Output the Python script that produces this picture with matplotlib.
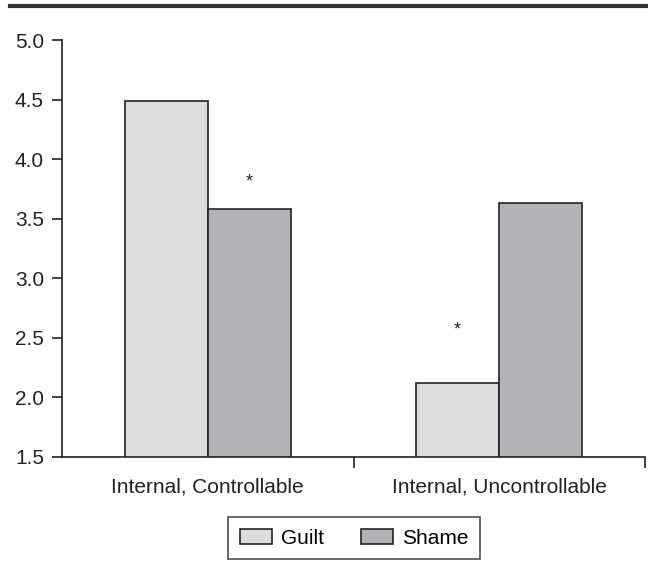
import matplotlib
matplotlib.use("Agg")
import matplotlib.pyplot as plt
import numpy as np
from matplotlib.lines import Line2D

categories = ["Internal, Controllable", "Internal, Uncontrollable"]
guilt = [4.49, 2.12]
shame = [3.58, 3.63]
series_names = ["Guilt", "Shame"]
yticks = [1.5, 2.0, 2.5, 3.0, 3.5, 4.0, 4.5, 5.0]
# significance stars: (category index, series index, y value)
stars = [(0, 1, 3.81), (1, 0, 2.57)]

plt.rcParams['font.family'] = ['Liberation Sans', 'DejaVu Sans']
fig = plt.figure(figsize=(6.48, 5.65), dpi=100)
ax = fig.add_axes([62/648, 108/565, 583/648, 417/565])

x = np.arange(len(categories))
w = 0.285
c_guilt = "#dcdddf"
c_shame = "#b2b3b6"
ec = "#222222"
fs = 15
ax.bar(x - w/2, guilt, w, color=c_guilt, edgecolor=ec, linewidth=1.2, label=series_names[0], zorder=2)
ax.bar(x + w/2, shame, w, color=c_shame, edgecolor=ec, linewidth=1.2, label=series_names[1], zorder=2)

for ci, si, yv in stars:
    xs = x[ci] + (w/2 if si == 1 else -w/2)
    ax.text(xs, yv, "*", ha="center", va="center", fontsize=13, color="#222222")

ax.set_ylim(1.5, 5.0)
ax.set_xlim(-0.5, 1.5)
ax.set_yticks(yticks)
ax.set_yticklabels([f"{v:.1f}" for v in yticks], fontsize=fs, color="#222222")
ax.set_xticks(x)
ax.set_xticklabels(categories, fontsize=fs, color="#222222")
ax.tick_params(axis='x', which='major', length=0, pad=15)
ax.set_xticks([0.5, 1.5], minor=True)
ax.tick_params(axis='x', which='minor', length=8, width=1.2, direction='out', color=ec)
ax.tick_params(axis='y', length=7, width=1.2, direction='out', color=ec, pad=6)
for s in ['top', 'right']:
    ax.spines[s].set_visible(False)
for s in ['left', 'bottom']:
    ax.spines[s].set_linewidth(1.2)
    ax.spines[s].set_color(ec)

leg = ax.legend(ncol=2, loc='center', bbox_to_anchor=(354/648, 1 - 538/565),
                bbox_transform=fig.transFigure, fontsize=fs, frameon=True,
                fancybox=False, edgecolor=ec, handlelength=1.55, handleheight=0.75,
                handletextpad=0.4, columnspacing=1.8, borderpad=0.55)
leg.get_frame().set_linewidth(1.2)

fig.add_artist(Line2D([10/648, 1.0], [1 - 6/565, 1 - 6/565], transform=fig.transFigure,
                      color="#333333", linewidth=3))

fig.savefig("out.png", dpi=100)
